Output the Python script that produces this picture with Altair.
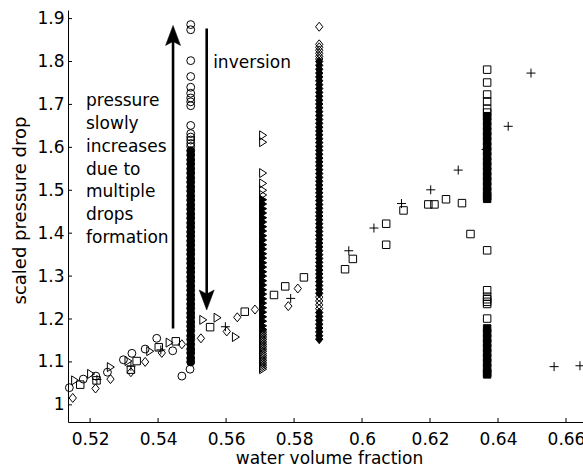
import altair as alt
import pandas as pd

# ---------------- data ----------------
X_TICKS = [0.52, 0.54, 0.56, 0.58, 0.6, 0.62, 0.64, 0.66]
Y_TICKS = [1.0, 1.1, 1.2, 1.3, 1.4, 1.5, 1.6, 1.7, 1.8, 1.9]

# scattered markers
circ_x = [0.5139, 0.5180, 0.5217, 0.5251, 0.5298, 0.5323, 0.5362, 0.5396, 0.5443, 0.5470, 0.5494]
circ_y = [1.040, 1.060, 1.067, 1.076, 1.105, 1.120, 1.130, 1.155, 1.126, 1.067, 1.083]

tri_x = [0.5156, 0.5203, 0.5261, 0.5313, 0.5377, 0.5434, 0.5533, 0.5575, 0.5629]
tri_y = [1.057, 1.072, 1.088, 1.102, 1.125, 1.145, 1.198, 1.203, 1.158]

dia_x = [0.5149, 0.5216, 0.5260, 0.5320, 0.5362, 0.5411, 0.5470, 0.5526, 0.5602, 0.5633, 0.5685, 0.5783, 0.5811]
dia_y = [1.016, 1.038, 1.060, 1.076, 1.100, 1.121, 1.141, 1.155, 1.171, 1.204, 1.222, 1.230, 1.271]

sq_x = [0.5171, 0.5219, 0.5320, 0.5337, 0.5402, 0.5452, 0.5553, 0.5655, 0.5741, 0.5774, 0.5829,
        0.5950, 0.5973, 0.6071, 0.6071, 0.6122, 0.6195, 0.6213, 0.6247, 0.6294, 0.6319]
sq_y = [1.047, 1.057, 1.082, 1.102, 1.134, 1.148, 1.181, 1.217, 1.256, 1.276, 1.297,
        1.316, 1.340, 1.422, 1.373, 1.453, 1.467, 1.467, 1.479, 1.470, 1.398]

plus_x = [0.5220, 0.5320, 0.5408, 0.5598, 0.5790, 0.5961, 0.6035, 0.6116, 0.6202, 0.6283,
          0.6365, 0.6430, 0.6497, 0.6565, 0.6641]
plus_y = [1.059, 1.090, 1.128, 1.182, 1.248, 1.359, 1.412, 1.469, 1.501, 1.547,
          1.595, 1.649, 1.773, 1.089, 1.091]

# vertical columns (many repeated measurements at one fraction)
circ_col_x = 0.5496
circ_col_open_y = [1.886, 1.874, 1.802, 1.765, 1.740, 1.726, 1.715, 1.706, 1.697, 1.651,
                   1.632, 1.624, 1.617, 1.609, 1.602]
circ_col_dense_y = [1.100, 1.109, 1.121, 1.130, 1.141, 1.152, 1.161, 1.173, 1.183, 1.193,
                    1.204, 1.214, 1.225, 1.235, 1.246, 1.256, 1.267, 1.277, 1.288, 1.298,
                    1.309, 1.319, 1.330, 1.340, 1.351, 1.361, 1.372, 1.382, 1.393, 1.403,
                    1.414, 1.424, 1.435, 1.445, 1.456, 1.466, 1.477, 1.487, 1.498, 1.508,
                    1.519, 1.529, 1.540, 1.550, 1.561, 1.571, 1.582, 1.592]

tri_col_x = 0.5709
tri_col_open_y = [1.628, 1.612, 1.540, 1.516, 1.500, 1.489,
                  1.172, 1.168, 1.164, 1.160, 1.156, 1.152, 1.148, 1.144, 1.140, 1.136,
                  1.132, 1.128, 1.124, 1.119, 1.115, 1.111, 1.107, 1.103, 1.099, 1.095,
                  1.091, 1.087, 1.083]
tri_col_dense_y = [1.478, 1.468, 1.457, 1.447, 1.436, 1.426, 1.415, 1.405, 1.394, 1.384,
                   1.373, 1.363, 1.352, 1.342, 1.331, 1.321, 1.310, 1.300, 1.289, 1.279,
                   1.268, 1.258, 1.247, 1.237, 1.226, 1.216, 1.205, 1.195, 1.184, 1.176]

dia_col_x = 0.5874
dia_col_open_y = [1.881, 1.840, 1.833, 1.826, 1.819, 1.812, 1.806,
                  1.251, 1.242, 1.233, 1.224]
dia_col_dense_y = [1.800, 1.791, 1.782, 1.773, 1.764, 1.755, 1.746, 1.737, 1.728, 1.719,
                   1.710, 1.701, 1.692, 1.683, 1.674, 1.665, 1.656, 1.647, 1.638, 1.629,
                   1.620, 1.611, 1.602, 1.593, 1.584, 1.575, 1.566, 1.557, 1.548, 1.539,
                   1.530, 1.521, 1.512, 1.503, 1.494, 1.485, 1.476, 1.467, 1.458, 1.449,
                   1.440, 1.431, 1.422, 1.413, 1.404, 1.395, 1.386, 1.377, 1.368, 1.359,
                   1.350, 1.341, 1.332, 1.323, 1.314, 1.305, 1.296, 1.287, 1.278, 1.269,
                   1.260, 1.215, 1.206, 1.197, 1.188, 1.179, 1.170, 1.161, 1.153]

sq_col_x = 0.6368
sq_col_open_y = [1.781, 1.751, 1.723, 1.707, 1.690, 1.681,
                 1.360, 1.267, 1.252, 1.246, 1.240, 1.235, 1.201]
sq_col_dense_y = [1.672, 1.661, 1.649, 1.637, 1.626, 1.614, 1.602, 1.591, 1.579, 1.567,
                  1.556, 1.544, 1.532, 1.521, 1.509, 1.497, 1.486, 1.480,
                  1.178, 1.167, 1.155, 1.144, 1.132, 1.121, 1.109, 1.098, 1.086, 1.075, 1.071]

# annotations
note_text = ["inversion",
             "pressure\nslowly\nincreases\ndue to\nmultiple\ndrops\nformation"]
note_x = [0.5562, 0.5188]
note_y = [1.7837, 1.6953]

arrow_x = [0.5444, 0.5543]
arrow_from = [1.178, 1.877]
arrow_to = [1.850, 1.258]
arrow_tip = [1.884, 1.221]

# ---------------- chart ----------------
FONT = "DejaVu Sans"
XS = alt.Scale(domain=[0.5135, 0.665], zero=False, nice=False)
YS = alt.Scale(domain=[0.96, 1.92], zero=False, nice=False)

XAX = alt.Axis(values=X_TICKS, format=".2~f", ticks=False, grid=False, labelPadding=9,
               domainColor="black", domainWidth=1, labelFont=FONT, labelFontSize=17,
               labelColor="black", titleFont=FONT, titleFontSize=17, titleFontWeight="normal",
               titleColor="black", titleX=261, titleY=36, titleBaseline="middle",
               titleAlign="center", labelFlush=False, labelOverlap=False)
YAX = alt.Axis(values=Y_TICKS, format=".1~f", ticks=False, grid=False, labelPadding=4,
               domainColor="black", domainWidth=1, labelFont=FONT, labelFontSize=17,
               labelColor="black", titleFont=FONT, titleFontSize=18, titleFontWeight="normal",
               titleColor="black", titleX=-48, titleY=200, titleAngle=270,
               titleBaseline="middle", titleAlign="center", labelFlush=False, labelOverlap=False)

XT = "water volume fraction"
YT = "scaled pressure drop"


def ex(f="x"):
    return alt.X(f"{f}:Q", scale=XS, axis=XAX, title=XT)


def ey(f="y"):
    return alt.Y(f"{f}:Q", scale=YS, axis=YAX, title=YT)


def df_pts(xs, ys):
    if not isinstance(xs, list):
        xs = [xs] * len(ys)
    return pd.DataFrame({"x": xs, "y": ys})


DIAMOND = "M0,-1L0.81,0L0,1L-0.81,0Z"
TRIANGLE = "M-0.78,-1L0.78,0L-0.78,1Z"
PLUS = "M-1,0L1,0M0,-1L0,1"


def pts(df, shape, size, filled=False):
    if filled:
        mark = alt.Chart(df).mark_point(
            shape=shape, size=size, filled=True, fill="black", stroke="black",
            strokeWidth=1, opacity=1)
    else:
        mark = alt.Chart(df).mark_point(
            shape=shape, size=size, filled=False, stroke="black", strokeWidth=1, opacity=1)
    return mark.encode(x=ex(), y=ey())


layers = [
    pts(df_pts(circ_x, circ_y), "circle", 62),
    pts(df_pts(circ_col_x, circ_col_open_y), "circle", 62),
    pts(df_pts(circ_col_x, circ_col_dense_y), "circle", 62, True),
    pts(df_pts(tri_x, tri_y), TRIANGLE, 81),
    pts(df_pts(tri_col_x, tri_col_open_y), TRIANGLE, 81),
    pts(df_pts(tri_col_x, tri_col_dense_y), TRIANGLE, 81, True),
    pts(df_pts(dia_x, dia_y), DIAMOND, 81),
    pts(df_pts(dia_col_x, dia_col_open_y), DIAMOND, 81),
    pts(df_pts(dia_col_x, dia_col_dense_y), DIAMOND, 81, True),
    pts(df_pts(sq_x, sq_y), "square", 56),
    pts(df_pts(sq_col_x, sq_col_open_y), "square", 56),
    pts(df_pts(sq_col_x, sq_col_dense_y), "square", 56, True),
    pts(df_pts(plus_x, plus_y), PLUS, 81),
]

arrows = pd.DataFrame({"x": arrow_x, "y": arrow_from, "y1": arrow_to, "tip": arrow_tip})
shafts = alt.Chart(arrows).mark_rule(color="black", strokeWidth=2.6).encode(
    x=ex(), y=ey(), y2=alt.Y2("y1:Q"))
head_up = alt.Chart(arrows.iloc[[0]]).mark_point(
    shape="M0,0L0.75,2L0,1.6L-0.75,2Z", size=400, filled=True, fill="black",
    stroke="black", strokeWidth=0.5, opacity=1).encode(x=ex(), y=ey("tip"))
head_down = alt.Chart(arrows.iloc[[1]]).mark_point(
    shape="M0,0L0.75,-2L0,-1.6L-0.75,-2Z", size=400, filled=True, fill="black",
    stroke="black", strokeWidth=0.5, opacity=1).encode(x=ex(), y=ey("tip"))

notes = pd.DataFrame({"x": note_x, "y": note_y, "t": note_text})
texts = alt.Chart(notes).mark_text(
    align="left", baseline="alphabetic", font=FONT, fontSize=17, color="black",
    lineBreak="\n", lineHeight=22.75).encode(x=ex(), y=ey(), text="t:N")

# inward tick marks (MATLAB style)
xt = alt.Chart(pd.DataFrame({"x": X_TICKS})).mark_rule(color="black", strokeWidth=1).encode(
    x=ex(), y=alt.value(412), y2=alt.value(408))
yt = alt.Chart(pd.DataFrame({"y": Y_TICKS})).mark_rule(color="black", strokeWidth=1).encode(
    y=ey(), x=alt.value(0), x2=alt.value(4))

chart = alt.layer(*layers, shafts, head_up, head_down, texts, xt, yt).properties(
    width=515, height=412,
    autosize=alt.AutoSizeParams(type="none"),
    padding={"left": 68, "top": 10, "right": 0, "bottom": 46},
).configure_view(stroke=None)

chart.save("out.html", embed_options={"renderer": "svg", "actions": False})
